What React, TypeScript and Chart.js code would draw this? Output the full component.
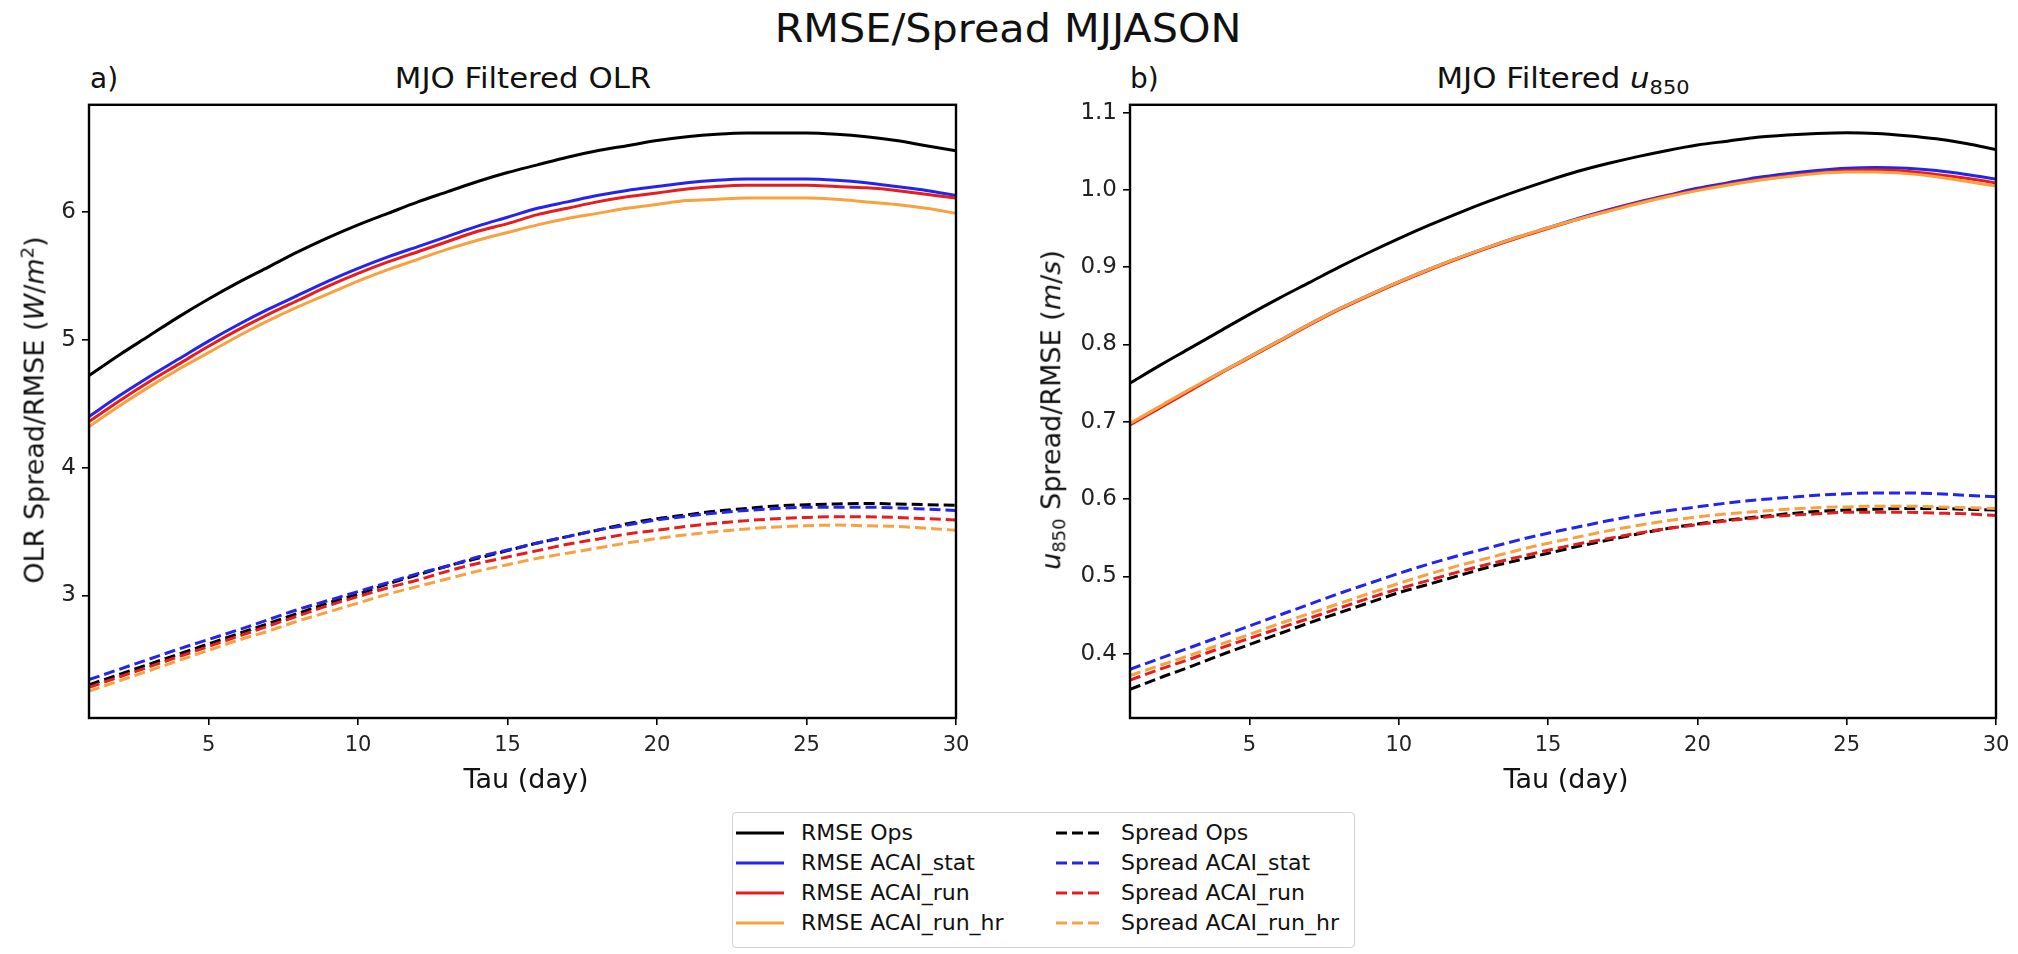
import React, { useEffect, useRef } from "react";
import { Chart, registerables } from "chart.js";
Chart.register(...registerables);

const TAU = [1, 2, 3, 4, 5, 6, 7, 8, 9, 10, 11, 12, 13, 14, 15, 16, 17, 18, 19, 20, 21, 22, 23, 24, 25, 26, 27, 28, 29, 30];
const X_TICKS = [5, 10, 15, 20, 25, 30];
const OLR_Y_TICKS = [3, 4, 5, 6];
const U850_Y_TICKS = [0.4, 0.5, 0.6, 0.7, 0.8, 0.9, 1.0, 1.1];
const OLR_Y_MIN = 2.04;
const OLR_Y_MAX = 6.84;
const U850_Y_MIN = 0.317;
const U850_Y_MAX = 1.11;

const SERIES_NAMES = ["Ops", "ACAI_stat", "ACAI_run", "ACAI_run_hr"];
const SERIES_COLORS = ["#000000", "#2424f0", "#e81c1c", "#f9a03f"];

// Panel a) MJO filtered OLR
const OLR_RMSE_OPS = [4.72, 4.88, 5.03, 5.18, 5.32, 5.45, 5.57, 5.69, 5.80, 5.90, 5.99, 6.08, 6.16, 6.24, 6.31, 6.37, 6.43, 6.48, 6.52, 6.56, 6.59, 6.61, 6.62, 6.62, 6.62, 6.61, 6.59, 6.56, 6.52, 6.48];
const OLR_RMSE_STAT = [4.40, 4.56, 4.71, 4.85, 4.99, 5.12, 5.24, 5.35, 5.46, 5.56, 5.65, 5.73, 5.81, 5.89, 5.96, 6.03, 6.08, 6.13, 6.17, 6.20, 6.23, 6.25, 6.26, 6.26, 6.26, 6.25, 6.23, 6.20, 6.17, 6.13];
const OLR_RMSE_RUN = [4.36, 4.52, 4.67, 4.81, 4.95, 5.08, 5.20, 5.31, 5.42, 5.52, 5.61, 5.69, 5.77, 5.85, 5.91, 5.98, 6.03, 6.08, 6.12, 6.15, 6.18, 6.20, 6.21, 6.21, 6.21, 6.20, 6.19, 6.17, 6.14, 6.11];
const OLR_RMSE_RUN_HR = [4.32, 4.48, 4.63, 4.77, 4.90, 5.03, 5.15, 5.26, 5.36, 5.46, 5.55, 5.63, 5.71, 5.78, 5.84, 5.90, 5.95, 5.99, 6.03, 6.06, 6.09, 6.10, 6.11, 6.11, 6.11, 6.10, 6.08, 6.06, 6.03, 5.99];
const OLR_SPREAD_OPS = [2.30, 2.38, 2.46, 2.54, 2.62, 2.70, 2.78, 2.86, 2.94, 3.01, 3.09, 3.16, 3.23, 3.29, 3.35, 3.41, 3.46, 3.51, 3.56, 3.60, 3.63, 3.66, 3.68, 3.70, 3.71, 3.715, 3.72, 3.715, 3.71, 3.705];
const OLR_SPREAD_STAT = [2.34, 2.42, 2.50, 2.58, 2.655, 2.73, 2.81, 2.89, 2.96, 3.03, 3.10, 3.17, 3.23, 3.30, 3.355, 3.41, 3.46, 3.51, 3.55, 3.59, 3.62, 3.645, 3.665, 3.68, 3.69, 3.69, 3.69, 3.685, 3.675, 3.665];
const OLR_SPREAD_RUN = [2.28, 2.36, 2.44, 2.52, 2.60, 2.68, 2.76, 2.84, 2.92, 2.99, 3.06, 3.12, 3.19, 3.25, 3.30, 3.35, 3.40, 3.44, 3.48, 3.51, 3.54, 3.565, 3.585, 3.60, 3.61, 3.615, 3.615, 3.61, 3.60, 3.59];
const OLR_SPREAD_RUN_HR = [2.25, 2.33, 2.41, 2.49, 2.57, 2.65, 2.72, 2.80, 2.87, 2.94, 3.01, 3.07, 3.13, 3.19, 3.24, 3.29, 3.33, 3.37, 3.41, 3.445, 3.475, 3.50, 3.52, 3.535, 3.545, 3.55, 3.545, 3.54, 3.525, 3.51];

// Panel b) MJO filtered u850
const U850_RMSE_OPS = [0.750, 0.773, 0.795, 0.817, 0.839, 0.860, 0.880, 0.900, 0.919, 0.937, 0.954, 0.970, 0.985, 0.999, 1.012, 1.024, 1.034, 1.043, 1.051, 1.058, 1.063, 1.068, 1.071, 1.073, 1.074, 1.073, 1.070, 1.066, 1.060, 1.052];
const U850_RMSE_STAT = [0.697, 0.719, 0.741, 0.763, 0.784, 0.805, 0.826, 0.846, 0.864, 0.881, 0.897, 0.912, 0.926, 0.939, 0.951, 0.963, 0.974, 0.984, 0.993, 1.002, 1.009, 1.016, 1.021, 1.025, 1.028, 1.029, 1.028, 1.025, 1.020, 1.014];
const U850_RMSE_RUN = [0.696, 0.718, 0.740, 0.762, 0.783, 0.804, 0.825, 0.845, 0.863, 0.880, 0.896, 0.911, 0.925, 0.938, 0.950, 0.962, 0.973, 0.983, 0.992, 1.000, 1.007, 1.013, 1.018, 1.022, 1.025, 1.026, 1.024, 1.020, 1.015, 1.009];
const U850_RMSE_RUN_HR = [0.698, 0.720, 0.742, 0.763, 0.784, 0.805, 0.826, 0.846, 0.864, 0.881, 0.897, 0.912, 0.926, 0.939, 0.951, 0.962, 0.972, 0.982, 0.991, 0.999, 1.006, 1.012, 1.017, 1.021, 1.023, 1.023, 1.021, 1.017, 1.011, 1.005];
const U850_SPREAD_OPS = [0.354, 0.369, 0.383, 0.398, 0.412, 0.426, 0.440, 0.453, 0.466, 0.479, 0.490, 0.501, 0.512, 0.521, 0.530, 0.539, 0.547, 0.555, 0.562, 0.568, 0.573, 0.577, 0.581, 0.584, 0.586, 0.587, 0.588, 0.588, 0.587, 0.586];
const U850_SPREAD_STAT = [0.380, 0.394, 0.408, 0.422, 0.436, 0.450, 0.464, 0.478, 0.491, 0.504, 0.516, 0.527, 0.537, 0.547, 0.556, 0.564, 0.572, 0.579, 0.585, 0.590, 0.595, 0.599, 0.602, 0.605, 0.607, 0.608, 0.608, 0.607, 0.605, 0.603];
const U850_SPREAD_RUN = [0.366, 0.380, 0.393, 0.407, 0.420, 0.433, 0.446, 0.459, 0.472, 0.484, 0.495, 0.506, 0.516, 0.525, 0.534, 0.542, 0.549, 0.556, 0.562, 0.567, 0.572, 0.576, 0.579, 0.581, 0.583, 0.583, 0.583, 0.582, 0.581, 0.579];
const U850_SPREAD_RUN_HR = [0.372, 0.385, 0.398, 0.412, 0.425, 0.439, 0.452, 0.465, 0.478, 0.491, 0.503, 0.514, 0.524, 0.534, 0.543, 0.551, 0.559, 0.566, 0.572, 0.577, 0.581, 0.584, 0.587, 0.589, 0.590, 0.591, 0.591, 0.590, 0.589, 0.588];

const FONT = "'DejaVu Sans', 'Noto Sans', sans-serif";
const DASH = [11, 5];

const framePlugin = {
  id: "frame",
  afterDraw(chart: any) {
    const { ctx, chartArea } = chart;
    const { left, top, right, bottom } = chartArea;
    ctx.save();
    ctx.strokeStyle = "#000";
    ctx.lineWidth = 2.4;
    ctx.strokeRect(left, top, right - left, bottom - top);
    ctx.restore();
  },
};

function buildChart(
  canvas: HTMLCanvasElement,
  rmse: number[][],
  spread: number[][],
  yTicks: number[],
  yMin: number,
  yMax: number,
  decimals: number,
  yAxisWidth: number,
  padRight: number
) {
  const datasets: any[] = [];
  rmse.forEach((vals, i) => {
    datasets.push({
      label: "RMSE " + SERIES_NAMES[i],
      data: TAU.map((t, j) => ({ x: t, y: vals[j] })),
      borderColor: SERIES_COLORS[i],
      backgroundColor: SERIES_COLORS[i],
      borderWidth: 3,
      pointRadius: 0,
      fill: false,
      cubicInterpolationMode: "monotone",
      order: 20 - i,
    });
  });
  spread.forEach((vals, i) => {
    datasets.push({
      label: "Spread " + SERIES_NAMES[i],
      data: TAU.map((t, j) => ({ x: t, y: vals[j] })),
      borderColor: SERIES_COLORS[i],
      backgroundColor: SERIES_COLORS[i],
      borderWidth: 3,
      borderDash: DASH,
      pointRadius: 0,
      fill: false,
      cubicInterpolationMode: "monotone",
      order: 10 - i,
    });
  });

  return new Chart(canvas, {
    type: "line",
    data: { datasets },
    plugins: [framePlugin],
    options: {
      responsive: false,
      animation: false,
      devicePixelRatio: 1,
      layout: { padding: { top: 15, left: 0, right: padRight, bottom: 12 } },
      plugins: { legend: { display: false }, tooltip: { enabled: false } },
      scales: {
        x: {
          type: "linear",
          min: 1,
          max: 30,
          afterBuildTicks: (scale: any) => {
            scale.ticks = X_TICKS.map((v) => ({ value: v }));
          },
          afterFit: (scale: any) => {
            scale.height = 50;
          },
          ticks: {
            color: "#222",
            font: { family: FONT, size: 21 },
            padding: 8,
            maxRotation: 0,
            callback: (v: any) => String(v),
          },
          grid: { drawOnChartArea: false, drawTicks: true, tickLength: 7, color: "#000", lineWidth: 1.6 },
          border: { display: false },
        },
        y: {
          type: "linear",
          min: yMin,
          max: yMax,
          afterBuildTicks: (scale: any) => {
            scale.ticks = yTicks.map((v) => ({ value: v }));
          },
          afterFit: (scale: any) => {
            scale.width = yAxisWidth;
          },
          ticks: {
            color: "#222",
            font: { family: FONT, size: 23 },
            padding: 6,
            callback: (v: any) => Number(v).toFixed(decimals),
          },
          grid: { drawOnChartArea: false, drawTicks: true, tickLength: 7, color: "#000", lineWidth: 1.6 },
          border: { display: false },
        },
      },
    } as any,
  });
}

function LegendItem({ x, y, color, dashed, label }: { x: number; y: number; color: string; dashed: boolean; label: string }) {
  return (
    <div style={{ position: "absolute", left: x, top: y - 15, height: 30, display: "flex", alignItems: "center" }}>
      <svg width={48} height={10} style={{ display: "block" }}>
        <line x1={0} y1={5} x2={48} y2={5} stroke={color} strokeWidth={3} strokeDasharray={dashed ? DASH.join(" ") : undefined} />
      </svg>
      <span style={{ marginLeft: 17, fontSize: 22, lineHeight: "30px", color: "#111", whiteSpace: "nowrap" }}>{label}</span>
    </div>
  );
}

export default function App() {
  const leftRef = useRef<HTMLCanvasElement>(null);
  const rightRef = useRef<HTMLCanvasElement>(null);

  useEffect(() => {
    const a = buildChart(
      leftRef.current!,
      [OLR_RMSE_OPS, OLR_RMSE_STAT, OLR_RMSE_RUN, OLR_RMSE_RUN_HR],
      [OLR_SPREAD_OPS, OLR_SPREAD_STAT, OLR_SPREAD_RUN, OLR_SPREAD_RUN_HR],
      OLR_Y_TICKS,
      OLR_Y_MIN,
      OLR_Y_MAX,
      0,
      89,
      24
    );
    const b = buildChart(
      rightRef.current!,
      [U850_RMSE_OPS, U850_RMSE_STAT, U850_RMSE_RUN, U850_RMSE_RUN_HR],
      [U850_SPREAD_OPS, U850_SPREAD_STAT, U850_SPREAD_RUN, U850_SPREAD_RUN_HR],
      U850_Y_TICKS,
      U850_Y_MIN,
      U850_Y_MAX,
      1,
      90,
      22
    );
    return () => {
      a.destroy();
      b.destroy();
    };
  }, []);

  const text: React.CSSProperties = { position: "absolute", fontFamily: FONT, color: "#111", whiteSpace: "nowrap", lineHeight: 1 };

  return (
    <div style={{ position: "absolute", left: 0, top: 0, width: 2018, height: 954, background: "#fff", overflow: "hidden", fontFamily: FONT }}>
      <div style={{ ...text, left: 1008, top: 9, fontSize: 39, transform: "translateX(-50%) scaleX(1.06)" }}>RMSE/Spread MJJASON</div>

      <div style={{ ...text, left: 90, top: 65, fontSize: 28 }}>a)</div>
      <div style={{ ...text, left: 523, top: 65, fontSize: 28, transform: "translateX(-50%) scaleX(1.1)" }}>MJO Filtered OLR</div>
      <div style={{ ...text, left: 1130, top: 65, fontSize: 28 }}>b)</div>
      <div style={{ ...text, left: 1563, top: 65, fontSize: 28, transform: "translateX(-50%) scaleX(1.1)" }}>
        MJO Filtered <i>u</i>
        <sub style={{ fontSize: 19, verticalAlign: "-0.3em" }}>850</sub>
      </div>

      <canvas ref={leftRef} width={980} height={695} style={{ position: "absolute", left: 0, top: 85 }} />
      <canvas ref={rightRef} width={978} height={695} style={{ position: "absolute", left: 1040, top: 85 }} />

      <div style={{ ...text, left: 33, top: 410, fontSize: 27, transform: "translate(-50%, -50%) rotate(-90deg)" }}>
        OLR Spread/RMSE (<i>W</i>/<i>m</i>
        <sup style={{ fontSize: 18, verticalAlign: "0.55em" }}>2</sup>)
      </div>
      <div style={{ ...text, left: 1053, top: 410, fontSize: 27, transform: "translate(-50%, -50%) rotate(-90deg)" }}>
        <i>u</i>
        <sub style={{ fontSize: 18, verticalAlign: "-0.3em" }}>850</sub> Spread/RMSE (<i>m</i>/<i>s</i>)
      </div>

      <div style={{ ...text, left: 526, top: 765, fontSize: 27, transform: "translateX(-50%)" }}>Tau (day)</div>
      <div style={{ ...text, left: 1566, top: 765, fontSize: 27, transform: "translateX(-50%)" }}>Tau (day)</div>

      <div
        style={{
          position: "absolute",
          left: 732,
          top: 812,
          width: 623,
          height: 136,
          border: "1.5px solid #d0d0d0",
          borderRadius: 4,
          boxSizing: "border-box",
          background: "#fff",
        }}
      />
      {SERIES_NAMES.map((name, i) => (
        <LegendItem key={"r" + i} x={736} y={833 + i * 30} color={SERIES_COLORS[i]} dashed={false} label={"RMSE " + name} />
      ))}
      {SERIES_NAMES.map((name, i) => (
        <LegendItem key={"s" + i} x={1056} y={833 + i * 30} color={SERIES_COLORS[i]} dashed={true} label={"Spread " + name} />
      ))}
    </div>
  );
}
